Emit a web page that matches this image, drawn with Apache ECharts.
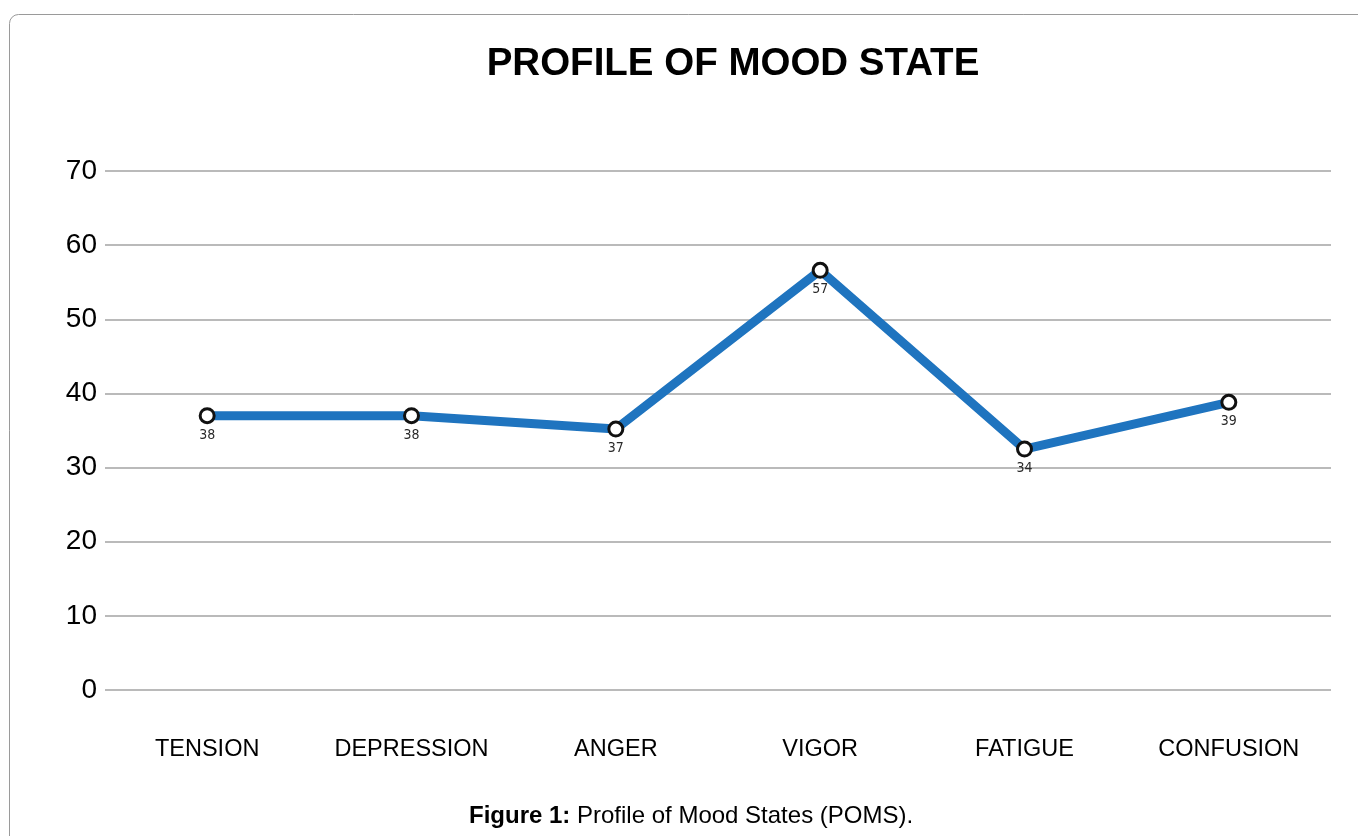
<!DOCTYPE html>
<html>
<head>
<meta charset="utf-8">
<title>Profile of Mood State</title>
<script src="https://cdn.jsdelivr.net/npm/echarts@6/dist/echarts.min.js"></script>
<style>
  html, body { margin: 0; padding: 0; background: #fff; }
  #chart { width: 1358px; height: 836px; }
</style>
</head>
<body>
<div id="chart"></div>
<script>
// moods on the x axis
var moods = ['TENSION', 'DEPRESSION', 'ANGER', 'VIGOR', 'FATIGUE', 'CONFUSION'];
// where the points sit on the y scale
var scores = [37, 37, 35.2, 56.6, 32.5, 38.8];
// numbers printed under each point
var scoreLabels = [38, 38, 37, 57, 34, 39];
var yTicks = [0, 10, 20, 30, 40, 50, 60, 70];

var chart = echarts.init(document.getElementById('chart'), null, { renderer: 'canvas' });

var option = {
  backgroundColor: '#fff',
  animation: false,
  title: {
    text: 'PROFILE OF MOOD STATE',
    left: 728,
    top: 40,
    textAlign: 'center',
    textStyle: {
      fontFamily: 'Liberation Sans, Arial, sans-serif',
      fontSize: 38.5,
      fontWeight: 'bold',
      color: '#000'
    }
  },
  graphic: [
    {
      // frame round the figure, runs off the right and bottom edges
      type: 'rect',
      shape: { x: 9.5, y: 14.5, width: 1370, height: 860, r: 9 },
      style: { fill: 'none', stroke: '#9a9a9a', lineWidth: 1 },
      z: -1
    },
    {
      type: 'text',
      left: 469,
      top: 804,
      style: {
        text: '{b|Figure 1:} Profile of Mood States (POMS).',
        rich: {
          b: { fontWeight: 'bold', fontSize: 24, fontFamily: 'Liberation Sans, Arial, sans-serif', fill: '#000' }
        },
        fontSize: 24,
        fontFamily: 'Liberation Sans, Arial, sans-serif',
        fill: '#000'
      }
    }
  ],
  grid: {
    left: 105,
    right: 27,
    top: 171,
    bottom: 146
  },
  xAxis: {
    type: 'category',
    data: moods,
    boundaryGap: true,
    axisLine: { show: false },
    axisTick: { show: false },
    axisLabel: {
      margin: 48,
      fontFamily: 'Liberation Sans, Arial, sans-serif',
      fontSize: 23.5,
      color: '#000'
    }
  },
  yAxis: {
    type: 'value',
    min: yTicks[0],
    max: yTicks[yTicks.length - 1],
    interval: 10,
    axisLine: { show: false },
    axisTick: { show: false },
    axisLabel: {
      margin: 8,
      fontFamily: 'Liberation Sans, Arial, sans-serif',
      fontSize: 28,
      color: '#000'
    },
    splitLine: {
      show: true,
      lineStyle: { color: '#a3a3a3', width: 1.5 }
    }
  },
  series: [{
    name: 'POMS',
    type: 'line',
    data: scores,
    symbol: 'circle',
    symbolSize: 14,
    lineStyle: { color: '#1f74bf', width: 9 },
    itemStyle: { color: '#fff', borderColor: '#111', borderWidth: 3 },
    label: {
      show: true,
      position: 'bottom',
      distance: 4,
      fontFamily: 'DejaVu Sans Condensed, Roboto, sans-serif',
      fontSize: 14,
      color: '#2a2a2a',
      formatter: function (p) { return scoreLabels[p.dataIndex]; }
    },
    z: 3
  }]
};

chart.setOption(option);
</script>
</body>
</html>
